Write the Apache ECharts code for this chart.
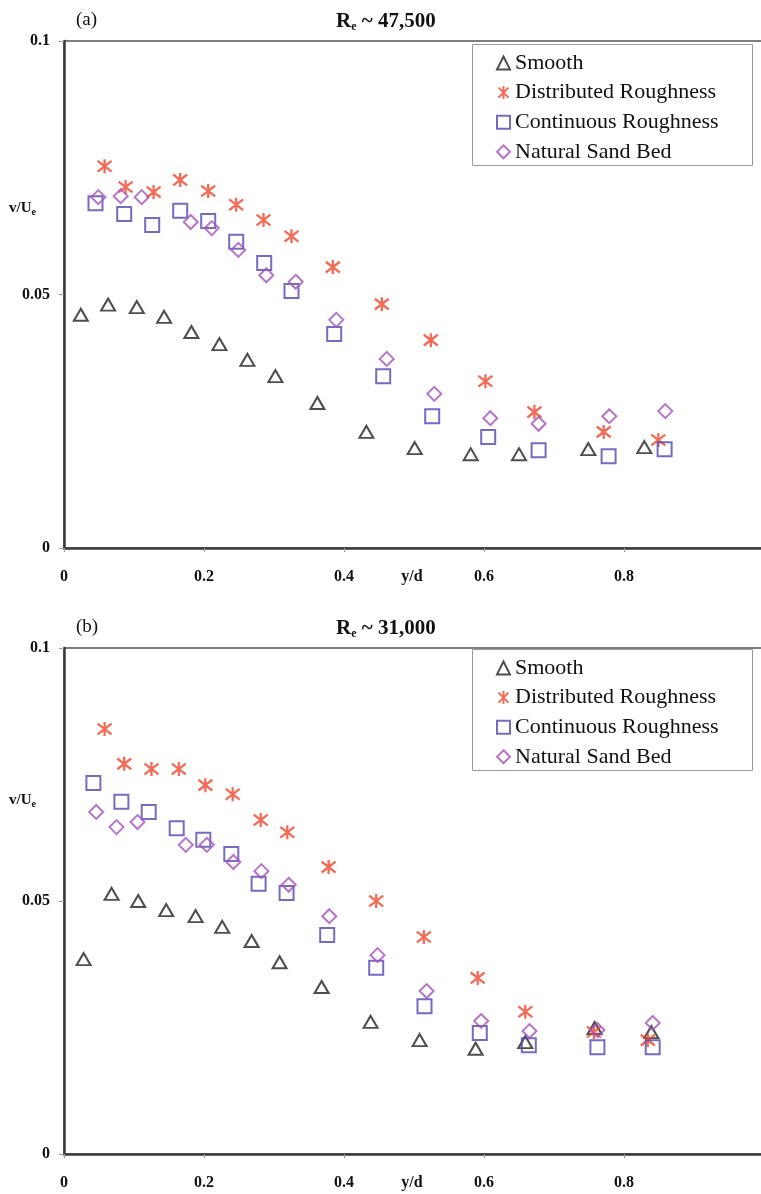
<!DOCTYPE html>
<html>
<head>
<meta charset="utf-8">
<style>html,body{margin:0;padding:0;background:#fff;}#c{width:761px;height:1194px;}</style>
<script src="https://cdn.jsdelivr.net/npm/echarts@6/dist/echarts.min.js"></script>
</head>
<body>
<div id="c"></div>
<script>
// ---- Data (y/d, v/Ue) ----
const seriesNames = ['Smooth', 'Distributed Roughness', 'Continuous Roughness', 'Natural Sand Bed'];
const xTickLabels = ['0', '0.2', '0.4', '0.6', '0.8', '1'];
const yTickLabels = ['0', '0.05', '0.1'];

// Panel (a) Re ~ 47,500
const smoothA = [[0.024,0.0460],[0.063,0.0480],[0.104,0.0475],[0.143,0.0456],[0.182,0.0426],[0.222,0.0402],[0.262,0.0371],[0.302,0.0339],[0.362,0.0286],[0.432,0.0229],[0.501,0.0197],[0.581,0.0185],[0.650,0.0185],[0.749,0.0195],[0.829,0.0199]];
const distA = [[0.058,0.0753],[0.088,0.0712],[0.128,0.0702],[0.166,0.0726],[0.206,0.0704],[0.246,0.0677],[0.285,0.0647],[0.325,0.0615],[0.384,0.0554],[0.454,0.0481],[0.524,0.0410],[0.602,0.0329],[0.672,0.0268],[0.771,0.0229],[0.849,0.0213]];
const contA = [[0.045,0.0680],[0.086,0.0659],[0.126,0.0637],[0.166,0.0665],[0.206,0.0645],[0.246,0.0604],[0.286,0.0562],[0.325,0.0507],[0.386,0.0422],[0.456,0.0339],[0.526,0.0260],[0.606,0.0219],[0.678,0.0193],[0.778,0.0181],[0.858,0.0195]];
const sandA = [[0.049,0.0692],[0.081,0.0694],[0.111,0.0692],[0.181,0.0643],[0.211,0.0631],[0.249,0.0588],[0.289,0.0538],[0.331,0.0525],[0.389,0.0450],[0.461,0.0373],[0.529,0.0304],[0.609,0.0256],[0.678,0.0245],[0.779,0.0260],[0.859,0.0270]];

// Panel (b) Re ~ 31,000
const smoothB = [[0.028,0.0385],[0.068,0.0514],[0.106,0.0500],[0.146,0.0482],[0.188,0.0470],[0.226,0.0449],[0.268,0.0421],[0.308,0.0379],[0.368,0.0330],[0.438,0.0261],[0.508,0.0225],[0.588,0.0208],[0.659,0.0221],[0.758,0.0249],[0.839,0.0241]];
const distB = [[0.058,0.0840],[0.086,0.0771],[0.125,0.0761],[0.164,0.0761],[0.202,0.0729],[0.241,0.0711],[0.281,0.0660],[0.319,0.0636],[0.378,0.0567],[0.446,0.0500],[0.514,0.0429],[0.591,0.0348],[0.659,0.0281],[0.757,0.0241],[0.834,0.0225]];
const contB = [[0.042,0.0733],[0.082,0.0696],[0.121,0.0676],[0.161,0.0644],[0.199,0.0621],[0.239,0.0593],[0.278,0.0534],[0.318,0.0516],[0.376,0.0433],[0.446,0.0368],[0.515,0.0292],[0.594,0.0239],[0.664,0.0215],[0.762,0.0211],[0.841,0.0211]];
const sandB = [[0.046,0.0676],[0.075,0.0646],[0.105,0.0656],[0.174,0.0611],[0.204,0.0611],[0.242,0.0577],[0.282,0.0559],[0.321,0.0532],[0.379,0.0470],[0.448,0.0393],[0.518,0.0322],[0.596,0.0263],[0.665,0.0243],[0.762,0.0245],[0.841,0.0259]];

const panels = [
  {label: '(a)', re: ' ~ 47,500', data: [smoothA, distA, contA, sandA]},
  {label: '(b)', re: ' ~ 31,000', data: [smoothB, distB, contB, sandB]}
];

// ---- Styles ----
const SERIF = '"Liberation Serif", "Times New Roman", serif';
const styles = [
  {symbol: 'triangle', size: [14, 12], color: '#222222', bw: 2},
  {symbol: 'path://M0,0L10,10M10,0L0,10M5,-1.5L5,11.5', size: [14, 14], color: '#f2452a', bw: 2.3},
  {symbol: 'rect', size: [14, 14], color: '#5246b0', bw: 2},
  {symbol: 'diamond', size: [14, 14], color: '#a552bd', bw: 2}
];

const grids = [
  {left: 64, top: 41, width: 700, height: 507},
  {left: 64, top: 648, width: 700, height: 506}
];

const xAxes = [], yAxes = [], series = [], graphics = [], legends = [];
panels.forEach((p, i) => {
  grids[i].show = true;
  grids[i].borderColor = '#555';
  grids[i].borderWidth = 1.5;
  grids[i].containLabel = false;
  grids[i].outerBoundsMode = 'none';
  xAxes.push({
    type: 'value', gridIndex: i, min: 0, max: 1, interval: 0.2,
    axisLine: {show: true, onZero: false, lineStyle: {color: '#3a3a3a', width: 2.5}},
    axisTick: {show: true, length: 4, lineStyle: {color: '#999'}},
    splitLine: {show: false},
    axisLabel: {margin: 21, fontFamily: SERIF, fontWeight: 'bold', fontSize: 16, color: '#111',
      formatter: v => xTickLabels[Math.round(v / 0.2)]}
  });
  yAxes.push({
    type: 'value', gridIndex: i, min: 0, max: 0.1, interval: 0.05,
    axisLine: {show: true, onZero: false, lineStyle: {color: '#3a3a3a', width: 2.5}},
    axisTick: {show: true, length: 5, lineStyle: {color: '#999'}},
    splitLine: {show: false},
    axisLabel: {margin: 14, fontFamily: SERIF, fontWeight: 'bold', fontSize: 16, color: '#111',
      formatter: v => yTickLabels[Math.round(v / 0.05)]}
  });
  p.data.forEach((d, k) => {
    const s = styles[k];
    series.push({
      name: seriesNames[k], type: 'scatter', xAxisIndex: i, yAxisIndex: i,
      data: d, symbol: s.symbol, symbolSize: s.size, silent: true,
      itemStyle: {color: 'rgba(0,0,0,0)', borderColor: s.color, borderWidth: s.bw},
      emphasis: {disabled: true}
    });
  });
  const dy = i === 0 ? 0 : 605;
  // Legend box
  graphics.push({type: 'rect', shape: {x: 472.5, y: 44.5 + dy, width: 280, height: 121},
    style: {fill: '#fff', stroke: '#9a9a9a', lineWidth: 1}, z: 0});
  legends.push({
    orient: 'vertical', left: 496, top: 52 + dy, itemWidth: 13, itemHeight: 13, itemGap: 7.6,
    padding: 0, data: seriesNames, selectedMode: false, z: 10,
    textStyle: {fontFamily: SERIF, fontSize: 22, color: '#111', lineHeight: 22, padding: [0,0,0,0]}
  });
  // Panel label and Re title
  const ty = i === 0 ? 0 : 607;
  graphics.push({type: 'text', left: 76, top: 11 + ty,
    style: {text: p.label, font: '19px ' + SERIF, fill: '#111'}});
  graphics.push({type: 'text', left: 336, top: 11 + ty,
    style: {text: '{b|R}{s|e}{b|' + p.re + '}',
      rich: {b: {fontFamily: SERIF, fontWeight: 'bold', fontSize: 21, fill: '#111'},
             s: {fontFamily: SERIF, fontWeight: 'bold', fontSize: 12, fill: '#111', padding: [11,0,0,0]}}}});
  // y-axis label
  graphics.push({type: 'text', left: 9, top: 201 + (i === 0 ? 0 : 592),
    style: {text: '{b|v/U}{s|e}',
      rich: {b: {fontFamily: SERIF, fontWeight: 'bold', fontSize: 15, fill: '#111'},
             s: {fontFamily: SERIF, fontWeight: 'bold', fontSize: 10, fill: '#111', padding: [7,0,0,0]}}}});
  // x-axis name
  graphics.push({type: 'text', x: 412, y: (i === 0 ? 577 : 1183),
    style: {text: 'y/d', font: 'bold 16px ' + SERIF, fill: '#111', align: 'center', verticalAlign: 'middle'}});
});

const chart = echarts.init(document.getElementById('c'), null, {renderer: 'canvas'});
chart.setOption({
  animation: false,
  backgroundColor: '#fff',
  grid: grids,
  xAxis: xAxes,
  yAxis: yAxes,
  legend: legends,
  graphic: graphics,
  series: series
});
</script>
</body>
</html>
